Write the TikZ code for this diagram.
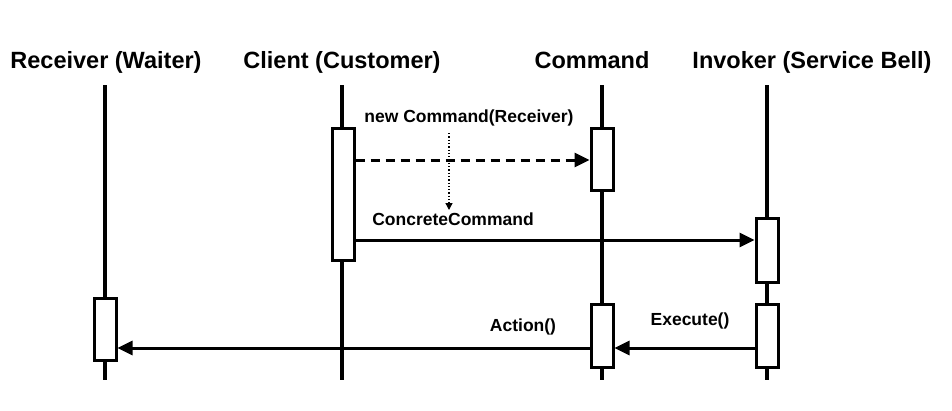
\documentclass[tikz,border=0pt]{standalone}
\usepackage{fontspec}
\setmainfont{Liberation Sans}
\usetikzlibrary{arrows.meta}
\begin{document}
\begin{tikzpicture}[x=1pt,y=-1pt,
  life/.style={line width=3.5pt},
  act/.style={draw,fill=white,line width=3pt,minimum width=22pt,inner sep=0pt},
  title/.style={font=\fontsize{23.5}{26}\selectfont\bfseries,anchor=base},
  lbl/.style={font=\fontsize{17.5}{20}\selectfont\bfseries,anchor=base},
  msg/.style={line width=3pt,-{Triangle[length=15pt,width=14pt]}}]
\useasboundingbox (0,0) rectangle (952,410);
\node[title] (t1) at (106,68) {Receiver (Waiter)};
\node[title] (t2) at (342,68) {Client (Customer)};
\node[title] (t3) at (592,68) {Command};
\node[title] (t4) at (812,68) {Invoker (Service Bell)};
\foreach \n/\x in {l1/105,l2/342,l3/602,l4/767}{
  \coordinate (\n a) at (\x,85); \coordinate (\n b) at (\x,380);
  \draw[life] (\n a) -- (\n b);}
\node[act,minimum height=132pt] (c1) at (343,194) {};
\node[act,minimum height=62pt] (m1) at (602,159) {};
\node[act,minimum height=64pt] (i1) at (767,250) {};
\node[act,minimum height=63pt] (i2) at (767,336) {};
\node[act,minimum height=63pt] (m2) at (602,336) {};
\node[act,minimum height=62pt] (r1) at (105,329) {};
\draw[msg,dash pattern=on 9pt off 6pt] (c1.east |- 0,160) -- (m1.west |- 0,160);
\coordinate (d1) at (449,133); \coordinate (d2) at (449,210);
\draw[line width=1.3pt,dotted,-{Triangle[length=7pt,width=7pt]}] (d1) -- (d2);
\draw[msg] (c1.east |- 0,240) -- (i1.west |- 0,240);
\draw[msg] (i2.west |- 0,348) -- (m2.east |- 0,348);
\draw[msg] (m2.west |- 0,348) -- (r1.east |- 0,348);
\node[lbl] (n1) at (469,122) {new Command(Receiver)};
\node[lbl] (n2) at (453,225) {ConcreteCommand};
\node[lbl] (n3) at (690,325) {Execute()};
\node[lbl] (n4) at (523,331) {Action()};
\end{tikzpicture}
\end{document}
